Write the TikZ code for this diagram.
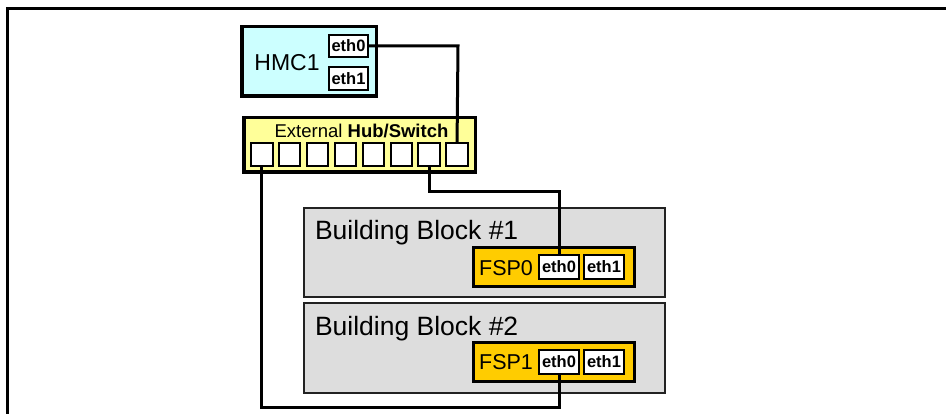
\documentclass[tikz,border=0pt]{standalone}
\usepackage{fontspec}
\setmainfont{Liberation Sans}
\definecolor{hmcfill}{HTML}{CCFFFF}
\definecolor{swfill}{HTML}{FFFF99}
\definecolor{fspfill}{HTML}{FFCC00}
\definecolor{bbfill}{HTML}{DDDDDD}
\definecolor{bbline}{HTML}{222222}
\begin{document}
\begin{tikzpicture}[x=1pt,y=-1pt,
  box/.style={draw, inner sep=0pt, outer sep=0pt},
  ethbox/.style={box, fill=white, line width=2pt, font=\fontsize{16.5}{17}\selectfont\bfseries},
  hmceth/.style={ethbox, minimum width=39pt, minimum height=22.5pt},
  fspeth/.style={ethbox, minimum width=40pt, minimum height=24pt},
  portbox/.style={box, fill=white, line width=2pt, minimum width=21.5pt, minimum height=23pt},
  hmcbox/.style={box, fill=hmcfill, line width=3.5pt, minimum width=134.5pt, minimum height=69.5pt},
  swbox/.style={box, fill=swfill, line width=3.5pt, minimum width=231.5pt, minimum height=54.5pt},
  bbbox/.style={box, draw=bbline, fill=bbfill, line width=1.8pt, minimum width=361.5pt, minimum height=89.5pt},
  fspbox/.style={box, fill=fspfill, line width=3pt, minimum width=161pt, minimum height=39pt},
  lbl/.style={inner sep=0pt, outer sep=0pt},
  wire/.style={line width=3pt, line join=miter},
  frame/.style={line width=3pt, line join=miter}
]
\useasboundingbox (0,0) rectangle (946,414);
\fill[white] (0,0) rectangle (946,414);
\draw[frame] (946,9) -- (7,9) -- (7,414);

% HMC
\node[hmcbox] (hmc) at (309,61.5) {};
\node[lbl, font=\fontsize{23}{24}\selectfont] (hmclabel) at (287,63) {HMC1};
\node[hmceth] (heth0) at (348.5,46) {eth0};
\node[hmceth] (heth1) at (348.5,78.5) {eth1};

% Switch
\node[swbox] (sw) at (359.5,145) {};
\node[lbl, font=\fontsize{18.5}{20}\selectfont] (swlabel) at (361.5,131) {External \textbf{Hub/Switch}};
\foreach \i in {1,...,8} {
  \node[portbox] (p\i) at ({261.75+27.9*(\i-1)},154.5) {};
}

% Building blocks
\node[bbbox] (bb1) at (484.5,252.5) {};
\node[bbbox] (bb2) at (484.5,348) {};
\node[lbl, anchor=base west, font=\fontsize{26.5}{28}\selectfont] (bb1label) at (315,240) {Building Block \#1};
\node[lbl, anchor=base west, font=\fontsize{26.5}{28}\selectfont] (bb2label) at (315,335) {Building Block \#2};

% FSPs
\node[fspbox] (fsp0) at (554,267.5) {};
\node[lbl, font=\fontsize{21.5}{22}\selectfont] (fsp0label) at (506,268) {FSP0};
\node[fspeth] (f0eth0) at (559,267) {eth0};
\node[fspeth] (f0eth1) at (604,267) {eth1};

\node[fspbox] (fsp1) at (554,362) {};
\node[lbl, font=\fontsize{21.5}{22}\selectfont] (fsp1label) at (506,362.5) {FSP1};
\node[fspeth] (f1eth0) at (559,362) {eth0};
\node[fspeth] (f1eth1) at (604,362) {eth1};

% wires
\coordinate (c1) at (458,46);
\draw[wire] (heth0.east) -- (c1) -- (p8.north);
\coordinate (c2) at (p7.south |- 0,192);
\coordinate (c3) at (f0eth0.north |- 0,192);
\draw[wire] (p7.south) -- (c2) -- (c3) -- (f0eth0.north);
\coordinate (c4) at (p1.south |- 0,407);
\coordinate (c5) at (f1eth0.south |- 0,407);
\draw[wire] (p1.south) -- (c4) -- (c5) -- (f1eth0.south);
\end{tikzpicture}
\end{document}
